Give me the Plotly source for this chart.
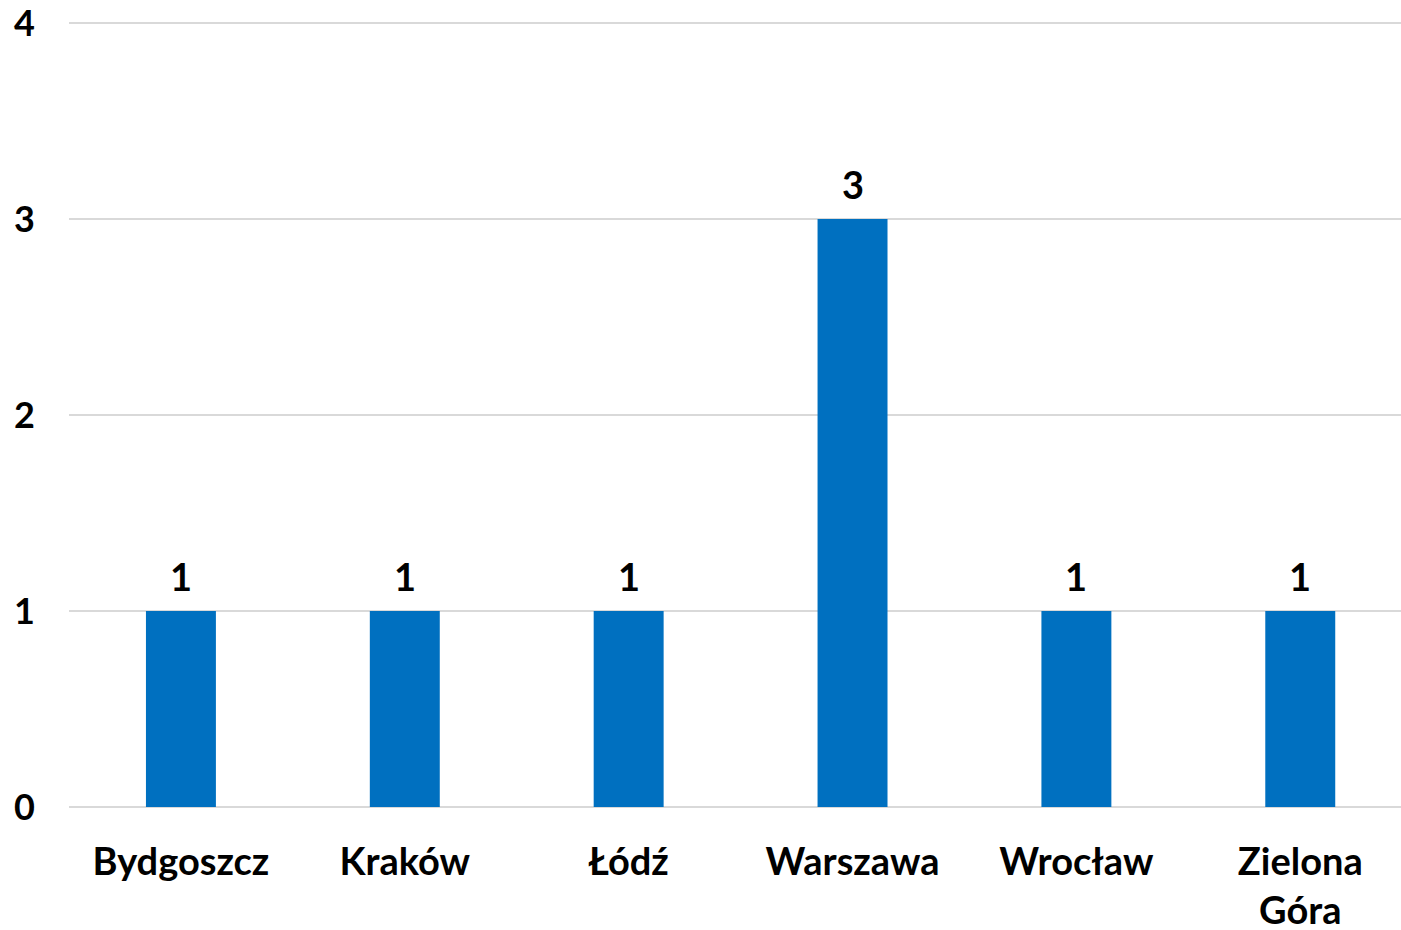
import plotly.graph_objects as go

cities = ["Bydgoszcz", "Kraków", "Łódź", "Warszawa", "Wrocław", "Zielona<br>Góra"]
counts = [1, 1, 1, 3, 1, 1]
y_ticks = [0, 1, 2, 3, 4]

FONT = "Lato, Carlito, Calibri, sans-serif"

fig = go.Figure(go.Bar(
    x=cities, y=counts,
    marker=dict(color="#0070C0", line=dict(width=0)),
    width=0.3125,
    cliponaxis=False,
    hoverinfo="skip",
))

for c, v in zip(cities, counts):
    fig.add_annotation(x=c, y=v, text=str(v), showarrow=False, yanchor="middle",
                       yshift=35, font=dict(family=FONT, size=38, color="black", weight="bold"))

fig.update_layout(
    width=1401, height=930,
    margin=dict(l=69, r=0, t=19, b=123),
    plot_bgcolor="white", paper_bgcolor="white",
    showlegend=False,
    font=dict(family=FONT, size=38, color="black", weight="bold"),
    xaxis=dict(range=[-0.5, 5.45], showgrid=False, showline=False, ticks="",
               ticklabelstandoff=29, automargin=False,
               tickfont=dict(family=FONT, size=38, color="black", weight="bold")),
    yaxis=dict(range=[0, 4.02], tickvals=y_ticks, showgrid=True, gridcolor="#d9d9d9",
               gridwidth=2, zeroline=True, zerolinecolor="#d9d9d9", zerolinewidth=2,
               showline=False, ticks="", ticklabelstandoff=33, automargin=False,
               ticklabeloverflow="allow",
               tickfont=dict(family=FONT, size=36, color="black", weight="bold")),
)

fig.write_html("out.html",
               config={"displayModeBar": False},
               post_script="document.body.style.margin='0';document.body.style.overflow='hidden';")
